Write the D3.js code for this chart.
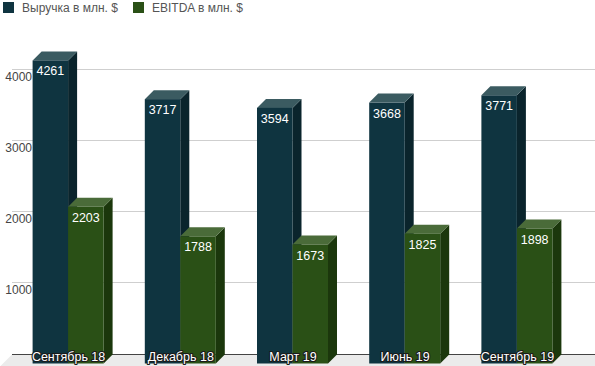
<!DOCTYPE html>
<html>
<head>
<meta charset="utf-8">
<script src="https://cdn.jsdelivr.net/npm/d3@7"></script>
<style>
  body { margin:0; background:#fff; }
  svg { display:block; font-family:"Liberation Sans", Arial, sans-serif; }
</style>
</head>
<body>
<svg id="chart" width="595" height="366"></svg>
<script>
// data
const categories = ['Сентябрь 18','Декабрь 18','Март 19','Июнь 19','Сентябрь 19'];
const seriesNames = ['Выручка в млн. $','EBITDA в млн. $'];
const revenue = [4261, 3717, 3594, 3668, 3771];
const ebitda = [2203, 1788, 1673, 1825, 1898];
const yTicks = [1000, 2000, 3000, 4000];

const palette = [
  {front:'#0f3440', side:'#0a242c', top:'#3b5b61'},
  {front:'#2a5016', side:'#1b370c', top:'#4a6b39'}
];

const W = 595, H = 366;
const dx = 9, dy = 9;          // 3d depth
const svg = d3.select('#chart');

const y = d3.scaleLinear().domain([0,4000]).range([354.5, 70]);
const x0 = d3.scaleBand().domain(categories).range([12, 573]);
const groupW = 71;
const x1 = d3.scaleBand().domain(seriesNames).range([0, groupW]);

// floor
svg.append('polygon')
  .attr('points', [[12,y(0)],[W,y(0)],[W,H],[12-dx*(H-y(0))/dy,H]].map(p=>p.join(',')).join(' '))
  .attr('fill','#ebebeb');

// grid on back wall
svg.append('g').selectAll('line')
  .data(yTicks)
  .join('line')
    .attr('x1',12).attr('x2',W)
    .attr('y1',d=>Math.round(y(d))-0.5).attr('y2',d=>Math.round(y(d))-0.5)
    .attr('stroke','#cfcfcf').attr('stroke-width',1);

svg.append('line')
  .attr('x1',12).attr('x2',W)
  .attr('y1',y(0)).attr('y2',y(0))
  .attr('stroke','#444').attr('stroke-width',1);

// y labels (front plane)
svg.append('g').selectAll('text')
  .data(yTicks)
  .join('text')
    .attr('x',32).attr('y',d=>y(d)+dy+2)
    .attr('text-anchor','end')
    .attr('font-size',12).attr('fill','#444')
    .text(d=>d);

// bars
const rows = categories.map((c,i)=>({cat:c, values:[revenue[i], ebitda[i]]}));
const groups = svg.append('g').selectAll('g')
  .data(rows)
  .join('g')
    .attr('transform',d=>`translate(${x0(d.cat)+(x0.bandwidth()-groupW)/2},0)`);

groups.each(function(d){
  const g = d3.select(this);
  d.values.forEach((v,si)=>{
    const col = palette[si];
    const bx = x1(seriesNames[si]), bw = x1.bandwidth();
    const top = y(v)+dy, base = y(0)+dy;
    const b = g.append('g');
    b.append('polygon') // side
      .attr('points',[[bx+bw,top],[bx+bw+dx,top-dy],[bx+bw+dx,base-dy],[bx+bw,base]].map(p=>p.join(',')).join(' '))
      .attr('fill',col.side);
    b.append('polygon') // top
      .attr('points',[[bx,top],[bx+dx,top-dy],[bx+bw+dx,top-dy],[bx+bw,top]].map(p=>p.join(',')).join(' '))
      .attr('fill',col.top);
    b.append('rect')
      .attr('x',bx).attr('y',top).attr('width',bw).attr('height',base-top)
      .attr('fill',col.front);
    b.append('text')
      .attr('x',bx+bw/2).attr('y',top+15)
      .attr('text-anchor','middle')
      .attr('font-size',12.5).attr('fill','#fff')
      .text(v);
  });
});

// category labels
svg.append('g').selectAll('text')
  .data(categories)
  .join('text')
    .attr('x',d=>x0(d)+x0.bandwidth()/2+0.5)
    .attr('y',361)
    .attr('text-anchor','middle')
    .attr('font-size',12.5)
    .attr('fill','#fff')
    .attr('stroke','#1a1a1a').attr('stroke-width',2.2)
    .attr('paint-order','stroke')
    .attr('stroke-linejoin','round')
    .text(d=>d);

// legend
const legend = svg.append('g').selectAll('g')
  .data(seriesNames)
  .join('g')
    .attr('transform',(d,i)=>`translate(${[3,133][i]},2)`);
legend.append('rect')
  .attr('width',11).attr('height',11)
  .attr('fill',(d,i)=>palette[i].front);
legend.append('text')
  .attr('x',19).attr('y',10)
  .attr('font-size',12).attr('fill','#555')
  .text(d=>d);
</script>
</body>
</html>
